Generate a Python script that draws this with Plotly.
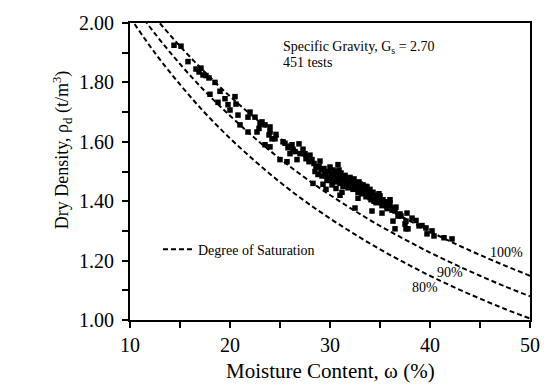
import plotly.graph_objects as go

# Saturation curves (moisture content %, dry density t/m3)
w_curve = [10, 12.5, 15, 17.5, 20, 22.5, 25, 27.5, 30, 32.5, 35, 37.5, 40, 42.5, 45, 47.5, 50]
rho_s100 = [2.126, 2.019, 1.922, 1.834, 1.753, 1.680, 1.612, 1.550, 1.492, 1.438, 1.388, 1.342,
            1.298, 1.257, 1.219, 1.183, 1.149]
rho_s90 = [2.077, 1.964, 1.862, 1.770, 1.688, 1.612, 1.543, 1.479, 1.421, 1.367, 1.317, 1.271,
           1.227, 1.187, 1.149, 1.113, 1.080]
rho_s80 = [2.019, 1.899, 1.793, 1.697, 1.612, 1.535, 1.464, 1.400, 1.342, 1.288, 1.238, 1.192,
           1.149, 1.109, 1.072, 1.037, 1.005]

# Test results (moisture content %, dry density t/m3)
test_w = [14.4, 15.1, 15.8, 16.6, 17.1, 17.6, 17.9, 18.5, 18.0, 18.8, 16.9, 19.5, 20.5, 20.6,
          20.0, 20.8, 21.8, 22.5, 23.2, 21.8, 22.7, 24.0, 24.2, 23.5,
          23.0, 23.5, 24.0, 23.9, 24.5, 24.0, 25.0, 25.7, 26.2, 26.9, 26.5, 27.0, 27.6, 27.9,
          25.3, 25.8, 26.0, 27.3, 28.0, 26.7,
          28.4, 28.9, 29.4, 29.8, 30.8, 30.4, 30.9, 31.4, 31.9, 32.5, 28.3, 29.3, 30.6,
          28.5, 28.8, 29.0, 29.2, 29.5, 29.7, 30.0, 30.1, 30.3, 30.5, 30.7, 31.0, 31.1, 31.3,
          31.5, 31.6, 31.8, 32.0, 32.1, 32.3, 32.4, 32.6, 32.8, 32.9, 33.0, 33.2, 33.3, 33.5,
          33.6, 33.8, 34.0, 34.1, 34.3, 34.5, 34.6, 34.8, 35.0, 35.2, 35.3, 35.5, 35.7, 35.9,
          36.0, 36.2, 36.5, 37.0, 37.7, 38.2, 36.3, 37.6, 36.5, 37.6, 38.9, 39.6, 40.2, 41.4,
          42.2, 32.8, 32.5, 34.2, 35.2, 33.5, 34.2, 34.8, 35.5, 31.2, 30.2, 29.6, 31.0,
          37.5, 37.8, 39.7, 40.4, 21.0, 19.0, 22.0, 33.9, 34.4, 36.8, 35.8, 33.1, 31.7, 29.9,
          28.6, 29.1, 29.6, 30.2, 30.6, 31.2, 31.7, 32.2, 32.7, 33.4, 33.7, 34.0, 34.7, 35.1,
          35.6, 36.1, 36.6, 37.1, 32.0, 33.0, 34.0, 35.0, 36.0, 30.0, 31.0, 28.2, 27.5, 26.3,
          25.5, 24.6, 22.9, 19.8, 17.3, 38.6, 39.2, 33.6, 34.9, 30.9]
test_rho = [1.925, 1.922, 1.870, 1.845, 1.848, 1.823, 1.815, 1.800, 1.760, 1.733, 1.835, 1.745,
            1.752, 1.727, 1.707, 1.690, 1.683, 1.683, 1.667, 1.633, 1.633, 1.633, 1.610, 1.590,
            1.660, 1.657, 1.650, 1.623, 1.610, 1.583, 1.540, 1.533, 1.590, 1.593, 1.567, 1.560,
            1.543, 1.533, 1.600, 1.580, 1.560, 1.575, 1.555, 1.540,
            1.527, 1.517, 1.510, 1.500, 1.523, 1.490, 1.483, 1.473, 1.467, 1.460, 1.460, 1.457,
            1.443, 1.500, 1.490, 1.535, 1.485, 1.495, 1.470, 1.515, 1.480, 1.505, 1.465, 1.500,
            1.460, 1.495, 1.450, 1.487, 1.460, 1.445, 1.480, 1.455, 1.440, 1.475, 1.450, 1.430,
            1.465, 1.445, 1.425, 1.455, 1.440, 1.415, 1.435, 1.425, 1.405, 1.430, 1.415, 1.395,
            1.410, 1.400, 1.385, 1.405, 1.390, 1.375, 1.385, 1.395, 1.370, 1.367, 1.357, 1.360,
            1.343, 1.333, 1.333, 1.307, 1.307, 1.317, 1.310, 1.300, 1.277, 1.273, 1.410, 1.377,
            1.367, 1.360, 1.440, 1.427, 1.410, 1.390, 1.430, 1.455, 1.440, 1.420,
            1.323, 1.307, 1.290, 1.283, 1.657, 1.770, 1.700, 1.420, 1.400, 1.350, 1.380, 1.430,
            1.470, 1.478,
            1.515, 1.505, 1.485, 1.495, 1.475, 1.478, 1.455, 1.462, 1.447, 1.430, 1.448, 1.412,
            1.420, 1.395, 1.398, 1.378, 1.380, 1.350, 1.468, 1.458, 1.440, 1.418, 1.405, 1.470,
            1.468, 1.540, 1.560, 1.575, 1.595, 1.625, 1.645, 1.725, 1.825, 1.335, 1.318, 1.450,
            1.425, 1.505]

serif = "Liberation Serif, Times New Roman, serif"
dash = "5px,3px"

fig = go.Figure()
fig.add_trace(go.Scatter(x=w_curve, y=rho_s100, mode="lines", name="Degree of Saturation",
                         line=dict(color="black", width=2, dash=dash, shape="spline"),
                         showlegend=True))
fig.add_trace(go.Scatter(x=w_curve, y=rho_s90, mode="lines", showlegend=False,
                         line=dict(color="black", width=2, dash=dash, shape="spline")))
fig.add_trace(go.Scatter(x=w_curve, y=rho_s80, mode="lines", showlegend=False,
                         line=dict(color="black", width=2, dash=dash, shape="spline")))
fig.add_trace(go.Scatter(x=test_w, y=test_rho, mode="markers", showlegend=False,
                         marker=dict(symbol="square", size=5.5, color="black")))

ann_font = dict(family=serif, size=14, color="black")
fig.add_annotation(x=47.6, y=1.227, text="100%", showarrow=False, font=ann_font)
fig.add_annotation(x=42.0, y=1.160, text="90%", showarrow=False, font=ann_font)
fig.add_annotation(x=39.5, y=1.110, text="80%", showarrow=False, font=ann_font)
fig.add_annotation(x=25.1, y=1.917, text="Specific Gravity, G<sub>s</sub> = 2.70", showarrow=False,
                   xanchor="left", font=ann_font)
fig.add_annotation(x=25.1, y=1.867, text="451 tests", showarrow=False, xanchor="left", font=ann_font)
# axis titles
fig.add_annotation(xref="paper", yref="paper", x=-0.205, y=0.57, textangle=-90, showarrow=False,
                   text="Dry Density, ρ<sub>d</sub> (t/m<sup>3</sup>)",
                   font=dict(family=serif, size=18, color="black"))
fig.add_annotation(xref="paper", yref="paper", x=0.5, y=-0.173, yanchor="middle", showarrow=False,
                   text="Moisture Content, ω (%)",
                   font=dict(family=serif, size=21, color="black"))

axis_common = dict(showline=True, linecolor="black", linewidth=2, mirror=True, showgrid=False,
                   zeroline=False, ticks="outside", tickcolor="black", tickwidth=2,
                   tickfont=dict(family=serif, size=20, color="black"))

fig.update_xaxes(range=[10, 50], dtick=10, tick0=10, ticklen=6,
                 minor=dict(dtick=5, tick0=10, ticks="outside", ticklen=6, tickcolor="black", tickwidth=2),
                 **axis_common)
fig.update_yaxes(range=[1.0, 2.0], dtick=0.2, tick0=1.0, tickformat=".2f", ticklen=6,
                 ticklabelstandoff=4,
                 minor=dict(dtick=0.1, tick0=1.0, ticks="outside", ticklen=6, tickcolor="black", tickwidth=2),
                 **axis_common)

fig.update_layout(
    width=552, height=387,
    margin=dict(l=130, r=14, t=20, b=67),
    paper_bgcolor="white", plot_bgcolor="white",
    legend=dict(x=0.07, y=0.237, xanchor="left", yanchor="middle", bgcolor="rgba(0,0,0,0)",
                font=dict(family=serif, size=14, color="black")),
)

fig.write_html("out.html", config={"displayModeBar": False},
               post_script="document.body.style.margin='0';")
